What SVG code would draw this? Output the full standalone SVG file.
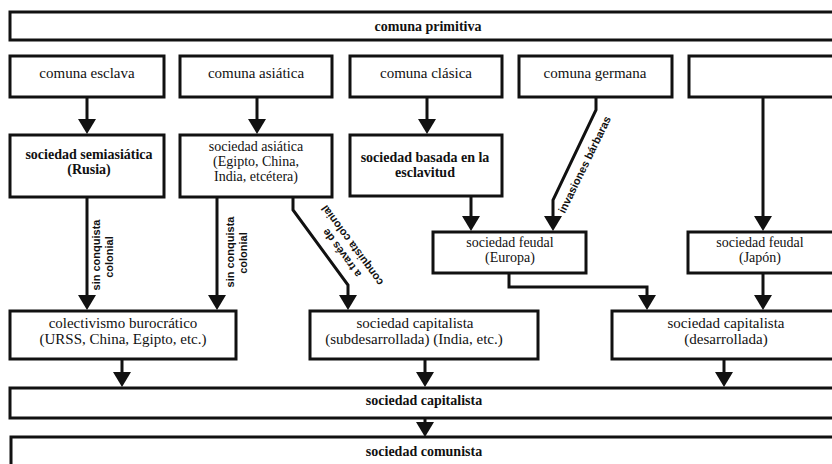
<svg xmlns="http://www.w3.org/2000/svg" width="832" height="464" viewBox="0 0 832 464">
<defs>
<style>
.box{fill:#fff;stroke:#111;stroke-width:3}
.cn{fill:none;stroke:#111;stroke-width:3;stroke-linejoin:miter}
.t{font-family:"Liberation Serif",serif;font-size:15px;text-anchor:middle;fill:#111}
.m{font-size:14px}
.b{font-weight:bold;font-size:14px}
.s{font-family:"Liberation Sans",sans-serif;font-size:11px;font-weight:bold;text-anchor:middle;fill:#111}
</style>
<marker id="ah" markerUnits="userSpaceOnUse" viewBox="0 0 15 18" markerWidth="15" markerHeight="18" refX="9" refY="9" orient="auto">
<path d="M0,0 L15,9 L0,18 z" fill="#111"/>
</marker>
</defs>
<rect width="832" height="464" fill="#fff"/>

<g id="connectors">
<path class="cn" marker-end="url(#ah)" d="M87,97 V128"/>
<path class="cn" marker-end="url(#ah)" d="M257,97 V128"/>
<path class="cn" marker-end="url(#ah)" d="M427,97 V128"/>
<path class="cn" marker-end="url(#ah)" d="M596,97 V110 L553,200 V225"/>
<path class="cn" marker-end="url(#ah)" d="M763,97 V225"/>
<path class="cn" marker-end="url(#ah)" d="M471,196 V225"/>
<path class="cn" marker-end="url(#ah)" d="M87,197 V304"/>
<path class="cn" marker-end="url(#ah)" d="M217,197 V304"/>
<path class="cn" marker-end="url(#ah)" d="M293,197 V210 L348,285 V304"/>
<path class="cn" marker-end="url(#ah)" d="M509,273 V287 H647 V304"/>
<path class="cn" marker-end="url(#ah)" d="M763,273 V304"/>
<path class="cn" marker-end="url(#ah)" d="M122,359 V381"/>
<path class="cn" marker-end="url(#ah)" d="M425,359 V381"/>
<path class="cn" marker-end="url(#ah)" d="M724,359 V381"/>
<path class="cn" marker-end="url(#ah)" d="M425,419 V431"/>
<g id="edge-labels">
<text class="s" transform="translate(100,255) rotate(-90)">sin conquista</text>
<text class="s" transform="translate(113,257) rotate(-90)">colonial</text>
<text class="s" transform="translate(234,252) rotate(-90)">sin conquista</text>
<text class="s" transform="translate(247,253) rotate(-90)">colonial</text>
<g transform="translate(331,261) rotate(233.7)">
<text class="s" x="0" y="17">a través de</text>
<text class="s" x="0" y="30">conquista colonial</text>
</g>
<g transform="translate(572.7,158.8) rotate(-64)">
<text class="s" x="0" y="17">invasiones bárbaras</text>
</g>
</g>
</g>

<g id="comuna-primitiva"><rect class="box" x="10" y="12" width="840" height="28"/><text class="t b" x="428" y="31">comuna primitiva</text></g>

<g id="comuna-esclava"><rect class="box" x="10" y="56" width="154" height="41"/><text class="t" x="87" y="78">comuna esclava</text></g>
<g id="comuna-asiatica"><rect class="box" x="180" y="56" width="152" height="41"/><text class="t" x="256" y="78">comuna asiática</text></g>
<g id="comuna-clasica"><rect class="box" x="350" y="56" width="152" height="41"/><text class="t" x="426" y="78">comuna clásica</text></g>
<g id="comuna-germana"><rect class="box" x="519" y="56" width="153" height="41"/><text class="t" x="595" y="78">comuna germana</text></g>
<g id="comuna-vacia"><rect class="box" x="689" y="56" width="160" height="41"/></g>

<g id="sociedad-semiasiatica"><rect class="box" x="10" y="135" width="154" height="62"/><text class="t b" x="89" y="159">sociedad semiasiática</text><text class="t b" x="89" y="174">(Rusia)</text></g>
<g id="sociedad-asiatica"><rect class="box" x="180" y="135" width="152" height="62"/><text class="t m" x="256" y="151">sociedad asiática</text><text class="t m" x="256" y="166">(Egipto, China,</text><text class="t m" x="256" y="181">India, etcétera)</text></g>
<g id="sociedad-esclavitud"><rect class="box" x="350" y="135" width="152" height="61"/><text class="t b" x="425" y="162">sociedad basada en la</text><text class="t b" x="425" y="177">esclavitud</text></g>

<g id="feudal-europa"><rect class="box" x="433" y="232" width="153" height="41"/><text class="t m" x="510" y="247">sociedad feudal</text><text class="t m" x="510" y="262">(Europa)</text></g>
<g id="feudal-japon"><rect class="box" x="688" y="232" width="160" height="41"/><text class="t m" x="760" y="247">sociedad feudal</text><text class="t m" x="760" y="262">(Japón)</text></g>

<g id="colectivismo"><rect class="box" x="10" y="311" width="226" height="48"/><text class="t" x="123" y="328">colectivismo burocrático</text><text class="t" x="123" y="344">(URSS, China, Egipto, etc.)</text></g>
<g id="capitalista-sub"><rect class="box" x="310" y="311" width="228" height="48"/><text class="t" x="415" y="328">sociedad capitalista</text><text class="t" x="414" y="344">(subdesarrollada) (India, etc.)</text></g>
<g id="capitalista-des"><rect class="box" x="612" y="311" width="240" height="48"/><text class="t" x="726" y="328">sociedad capitalista</text><text class="t" x="726" y="344">(desarrollada)</text></g>

<g id="sociedad-capitalista"><rect class="box" x="10" y="388" width="840" height="30"/><text class="t b" x="424" y="405">sociedad capitalista</text></g>
<g id="sociedad-comunista"><rect class="box" x="11" y="437" width="840" height="40"/><text class="t b" x="424" y="456">sociedad comunista</text></g>
</svg>
